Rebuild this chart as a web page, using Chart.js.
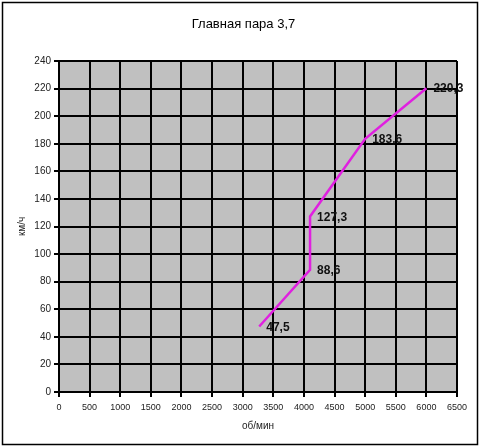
<!DOCTYPE html>
<html>
<head>
<meta charset="utf-8">
<script src="https://cdn.jsdelivr.net/npm/chart.js@4/dist/chart.umd.min.js"></script>
<style>
  html, body { margin: 0; padding: 0; background: #fff; }
  #wrap { width: 481px; height: 448px; position: relative; }
</style>
</head>
<body>
<div id="wrap"><canvas id="chart"></canvas></div>
<script>
// chart data
const chartTitle = 'Главная пара 3,7';
const rpm = [3270, 4100, 4100, 5000, 6000];
const speed = [47.5, 88.6, 127.3, 183.6, 220.3];
const xLabel = 'об/мин';
const yLabel = 'км/ч';

const font = 'Liberation Sans, Arial, sans-serif';

// gray plot background, outer frame, title
const framePlugin = {
  id: 'frame',
  beforeDraw(chart) {
    const { ctx, chartArea: a } = chart;
    ctx.save();
    ctx.fillStyle = '#fff';
    ctx.fillRect(0, 0, chart.width, chart.height);
    ctx.strokeStyle = '#000';
    ctx.lineWidth = 1.5;
    ctx.strokeRect(2.5, 2.5, chart.width - 6, chart.height - 6);
    ctx.fillStyle = '#c0c0c0';
    ctx.fillRect(a.left, a.top, a.right - a.left, a.bottom - a.top);
    ctx.fillStyle = '#000';
    ctx.font = '13px ' + font;
    ctx.textAlign = 'center';
    ctx.textBaseline = 'middle';
    ctx.fillText(chartTitle, chart.width / 2 + 3, 24);
    ctx.restore();
  }
};

// value labels right of each point
const labelPlugin = {
  id: 'valueLabels',
  afterDatasetsDraw(chart) {
    const { ctx } = chart;
    const meta = chart.getDatasetMeta(0);
    ctx.save();
    ctx.fillStyle = '#111';
    ctx.font = 'bold 12px ' + font;
    ctx.textAlign = 'left';
    ctx.textBaseline = 'middle';
    meta.data.forEach((pt, i) => {
      ctx.fillText(String(speed[i]).replace('.', ','), pt.x + 7, pt.y + 1);
    });
    ctx.restore();
  }
};

const ctx = document.getElementById('chart').getContext('2d');
new Chart(ctx, {
  type: 'line',
  data: {
    datasets: [{
      data: rpm.map((x, i) => ({ x: x, y: speed[i] })),
      borderColor: '#e020e0',
      borderWidth: 2.5,
      pointRadius: 0,
      tension: 0,
      fill: false
    }]
  },
  options: {
    responsive: true,
    maintainAspectRatio: false,
    animation: false,
    layout: { padding: { left: 16, right: 24, top: 61, bottom: 16 } },
    plugins: { legend: { display: false }, tooltip: { enabled: false }, title: { display: false } },
    scales: {
      x: {
        type: 'linear',
        min: 0, max: 6500,
        ticks: { stepSize: 500, color: '#222', font: { family: font, size: 9 }, padding: 5, maxRotation: 0,
                 callback: v => String(v) },
        grid: { color: '#000', lineWidth: 2, tickLength: 5, tickColor: '#000' },
        border: { color: '#000', width: 2 },
        title: { display: true, text: xLabel, color: '#222', font: { family: font, size: 10 }, padding: 0 },
        afterFit(s) { s.height = 40; }
      },
      y: {
        min: 0, max: 240,
        ticks: { stepSize: 20, color: '#222', font: { family: font, size: 10 }, padding: 3,
                 callback: v => String(v) },
        grid: { color: '#000', lineWidth: 2, tickLength: 5, tickColor: '#000' },
        border: { color: '#000', width: 2 },
        title: { display: true, text: yLabel, color: '#222', font: { family: font, size: 10 }, padding: 0 },
        afterFit(s) { s.width = 43; }
      }
    }
  },
  plugins: [framePlugin, labelPlugin]
});
</script>
</body>
</html>
